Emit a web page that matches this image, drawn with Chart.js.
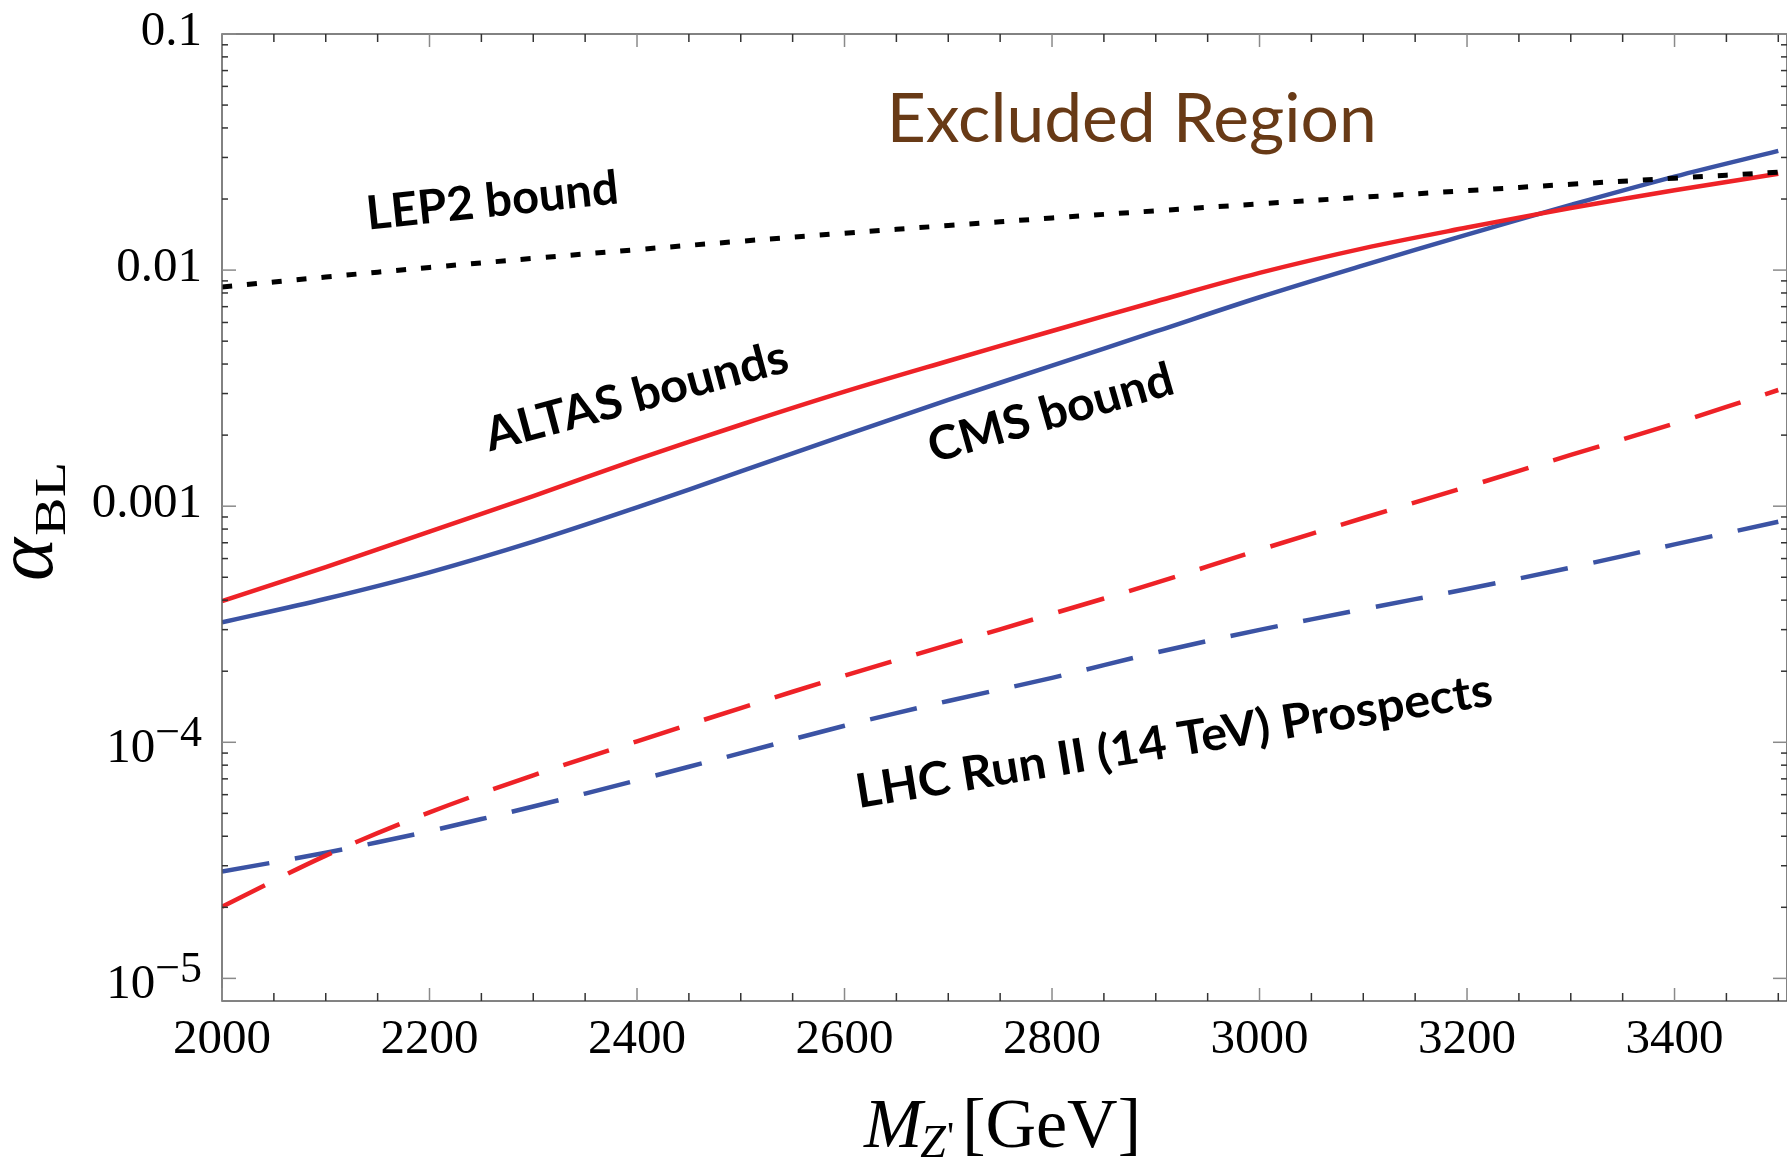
<!DOCTYPE html>
<html>
<head>
<meta charset="utf-8">
<title>B-L gauge coupling bounds</title>
<script src="https://cdn.jsdelivr.net/npm/chart.js@4.4.1/dist/chart.umd.min.js"></script>
<style>
  html, body { margin: 0; padding: 0; background: #fff; overflow: hidden; }
  #wrap { width: 1787px; height: 1160px; position: relative; }
</style>
</head>
<body>
<div id="wrap"><canvas id="boundsChart"></canvas></div>
<script>
// --- data: Z' mass (GeV) and alpha_BL limits ---
const massGeV = [2000, 2100, 2200, 2300, 2400, 2500, 2600, 2700, 2800, 2900, 3000, 3100, 3200, 3300, 3400, 3500];

const atlasBound = [3.96e-4, 5.52e-4, 7.80e-4, 1.104e-3, 1.578e-3, 2.213e-3, 3.055e-3, 4.121e-3,
                    5.521e-3, 7.362e-3, 9.727e-3, 1.236e-2, 1.514e-2, 1.832e-2, 2.178e-2, 2.559e-2];
const cmsBound   = [3.221e-4, 4.055e-4, 5.248e-4, 7.079e-4, 9.886e-4, 1.403e-3, 1.995e-3, 2.818e-3,
                    3.936e-3, 5.495e-3, 7.674e-3, 1.047e-2, 1.413e-2, 1.888e-2, 2.489e-2, 3.199e-2];
const lep2Bound  = [8.48e-3, 9.35e-3, 1.026e-2, 1.121e-2, 1.221e-2, 1.325e-2, 1.433e-2, 1.545e-2,
                    1.662e-2, 1.783e-2, 1.908e-2, 2.037e-2, 2.171e-2, 2.309e-2, 2.451e-2, 2.597e-2];
const atlasRun2  = [2.009e-5, 3.311e-5, 5.047e-5, 7.244e-5, 1.009e-4, 1.396e-4, 1.914e-4, 2.588e-4,
                    3.499e-4, 4.732e-4, 6.531e-4, 8.913e-4, 1.208e-3, 1.648e-3, 2.239e-3, 3.105e-3];
const cmsRun2    = [2.838e-5, 3.404e-5, 4.207e-5, 5.346e-5, 6.902e-5, 8.995e-5, 1.175e-4, 1.496e-4,
                    1.875e-4, 2.399e-4, 2.992e-4, 3.664e-4, 4.457e-4, 5.495e-4, 6.887e-4, 8.590e-4];

// tick labels
const xTickLabels = [2000, 2200, 2400, 2600, 2800, 3000, 3200, 3400];
const yTickValues = [0.1, 0.01, 0.001, 1e-4, 1e-5];
const yTickLabels = ['0.1', '0.01', '0.001', '10^\u22124', '10^\u22125'];

// text placed inside the frame, anchored in data coordinates
const notes = [
  { text: 'Excluded Region', m: 2640.7, a: 0.0350, angle: 0, width: 490, font: '68px Lato', color: '#683a16' },
  { text: 'LEP2 bound', m: 2140.8, a: 0.01483, angle: 6, width: 253, font: 'bold 47px Lato', color: '#000' },
  { text: 'ALTAS bounds', m: 2258, a: 1.703e-3, angle: 15, width: 312, font: 'bold 47px Lato', color: '#000' },
  { text: 'CMS bound', m: 2685.6, a: 1.524e-3, angle: 16, width: 253, font: 'bold 47px Lato', color: '#000' },
  { text: 'LHC Run II (14 TeV) Prospects', m: 2613.5, a: 5.27e-5, angle: 9.2, width: 644, font: 'bold 47px Lato', color: '#000' }
];

const RED = '#ee2227';
const BLUE = '#3b53a4';
const SERIF = '"Liberation Serif", "Times New Roman", serif';

function series(values) {
  return massGeV.map((m, i) => ({ x: m, y: values[i] }));
}

// minor/major tick positions for the frame
const xTickPositions = [];
for (let m = 2000; m <= 3500; m += 50) xTickPositions.push(m);
const yTickPositions = [];
for (let e = -5; e <= -2; e++) {
  for (let k = 1; k <= 9; k++) yTickPositions.push(k * Math.pow(10, e));
}
yTickPositions.push(0.1);

function line(ctx, x1, y1, x2, y2) {
  ctx.beginPath();
  ctx.moveTo(x1, y1);
  ctx.lineTo(x2, y2);
  ctx.stroke();
}

// stretch text horizontally so it spans the given width
function drawFitted(ctx, note, px, py) {
  ctx.save();
  ctx.translate(px, py);
  ctx.rotate(-note.angle * Math.PI / 180);
  ctx.font = note.font;
  ctx.fillStyle = note.color;
  ctx.textAlign = 'left';
  ctx.textBaseline = 'alphabetic';
  const w = ctx.measureText(note.text).width;
  ctx.scale(note.width / w, 1);
  ctx.fillText(note.text, 0, 0);
  ctx.restore();
}

const framePlugin = {
  id: 'framePlugin',
  afterDatasetsDraw(chart) {
    const { ctx, chartArea: a, scales: { x, y } } = chart;
    ctx.save();

    // frame
    ctx.strokeStyle = '#5a5a5a';
    ctx.lineWidth = 1.5;
    ctx.strokeRect(a.left, a.top, a.right - a.left, a.bottom - a.top);

    // x ticks, bottom and top
    x.ticks.forEach(t => {
      const px = x.getPixelForValue(t.value);
      const major = t.value % 200 === 0;
      const len = major ? 13 : 8;
      ctx.strokeStyle = major ? '#8a8a8a' : '#333';
      ctx.lineWidth = 1.5;
      line(ctx, px, a.bottom, px, a.bottom - len);
      line(ctx, px, a.top, px, a.top + len);
    });

    // y ticks, left and right
    y.ticks.forEach(t => {
      const py = y.getPixelForValue(t.value);
      const mant = t.value / Math.pow(10, Math.floor(Math.log10(t.value) + 1e-9));
      const major = Math.abs(mant - 1) < 1e-6;
      const len = major ? 14 : 6;
      ctx.strokeStyle = major ? '#8a8a8a' : '#333';
      ctx.lineWidth = 1.5;
      line(ctx, a.left, py, a.left + len, py);
      line(ctx, a.right, py, a.right - len, py);
    });

    // x tick labels
    ctx.fillStyle = '#000';
    ctx.font = '49px ' + SERIF;
    ctx.textAlign = 'center';
    ctx.textBaseline = 'alphabetic';
    xTickLabels.forEach(v => {
      ctx.fillText(String(v), x.getPixelForValue(v), a.bottom + 52);
    });

    // y tick labels
    ctx.textAlign = 'right';
    yTickValues.forEach((v, i) => {
      const py = y.getPixelForValue(v);
      const label = yTickLabels[i];
      const xr = a.left - 20;
      if (label.includes('^')) {
        const [base, sup] = label.split('^');
        ctx.font = '44px ' + SERIF;
        const sw = ctx.measureText(sup).width;
        ctx.fillText(sup, xr, py + 4);
        ctx.font = '49px ' + SERIF;
        ctx.fillText(base, xr - sw, py + 20);
      } else {
        ctx.font = '49px ' + SERIF;
        ctx.fillText(label, xr, py + 11);
      }
    });

    // x axis title: M_Z'[GeV]
    const parts = [
      { t: 'M', font: 'italic 70px ' + SERIF, dy: 0, after: -2 },
      { t: 'Z', font: 'italic 46px ' + SERIF, dy: 10, after: 1 },
      { t: '\'', font: '40px ' + SERIF, dy: 2, after: 8 },
      { t: '[GeV]', font: '70px ' + SERIF, dy: 0, after: 0 }
    ];
    ctx.textAlign = 'left';
    let total = 0;
    parts.forEach(p => { ctx.font = p.font; p.w = ctx.measureText(p.t).width; total += p.w + p.after; });
    let cx = (a.left + a.right) / 2 - 2 - total / 2;
    const base = a.bottom + 146;
    parts.forEach(p => {
      ctx.font = p.font;
      ctx.fillText(p.t, cx, base + p.dy);
      cx += p.w + p.after;
    });

    // y axis title: alpha_BL, reading upward
    ctx.save();
    ctx.translate(52, 0);
    ctx.rotate(-Math.PI / 2);
    ctx.font = 'italic 82px ' + SERIF;
    const aw = ctx.measureText('\u03b1').width;
    ctx.font = '44px ' + SERIF;
    const blw = ctx.measureText('BL').width;
    const blTarget = 74;
    const len = aw + 2 + blTarget;
    const startY = -((a.top + a.bottom) / 2 + 4) - len / 2;
    ctx.font = 'italic 82px ' + SERIF;
    ctx.fillText('\u03b1', startY, 0);
    ctx.save();
    ctx.translate(startY + aw + 2, 13);
    ctx.scale(blTarget / blw, 1);
    ctx.font = '44px ' + SERIF;
    ctx.fillText('BL', 0, 0);
    ctx.restore();
    ctx.restore();

    // labels inside the frame
    notes.forEach(n => drawFitted(ctx, n, x.getPixelForValue(n.m), y.getPixelForValue(n.a)));

    ctx.restore();
  }
};

new Chart(document.getElementById('boundsChart'), {
  type: 'line',
  data: {
    datasets: [
      { label: 'LEP2 bound', data: series(lep2Bound), borderColor: '#000', borderWidth: 5, borderDash: [10, 15] },
      { label: 'ATLAS bound', data: series(atlasBound), borderColor: RED, borderWidth: 4.5 },
      { label: 'CMS bound', data: series(cmsBound), borderColor: BLUE, borderWidth: 4.5 },
      { label: 'ATLAS Run II', data: series(atlasRun2), borderColor: RED, borderWidth: 4.5, borderDash: [48, 26] },
      { label: 'CMS Run II', data: series(cmsRun2), borderColor: BLUE, borderWidth: 4.5, borderDash: [48, 26] }
    ]
  },
  options: {
    responsive: true,
    maintainAspectRatio: false,
    devicePixelRatio: 1,
    animation: false,
    events: [],
    layout: { padding: { top: 34, left: 0, right: 0, bottom: 0 } },
    elements: {
      point: { radius: 0 },
      line: { tension: 0.35, fill: false, borderCapStyle: 'butt' }
    },
    plugins: { legend: { display: false }, tooltip: { enabled: false } },
    scales: {
      x: {
        type: 'linear',
        min: 2000,
        max: 3508.4,
        grid: { display: false },
        border: { display: false },
        ticks: { display: false },
        afterBuildTicks: s => { s.ticks = xTickPositions.map(v => ({ value: v })); },
        afterFit: s => { s.height = 159; }
      },
      y: {
        type: 'logarithmic',
        min: 8.02e-6,
        max: 0.1,
        grid: { display: false },
        border: { display: false },
        ticks: { display: false },
        afterBuildTicks: s => { s.ticks = yTickPositions.map(v => ({ value: v })); },
        afterFit: s => { s.width = 222; }
      }
    }
  },
  plugins: [framePlugin]
});
</script>
</body>
</html>
